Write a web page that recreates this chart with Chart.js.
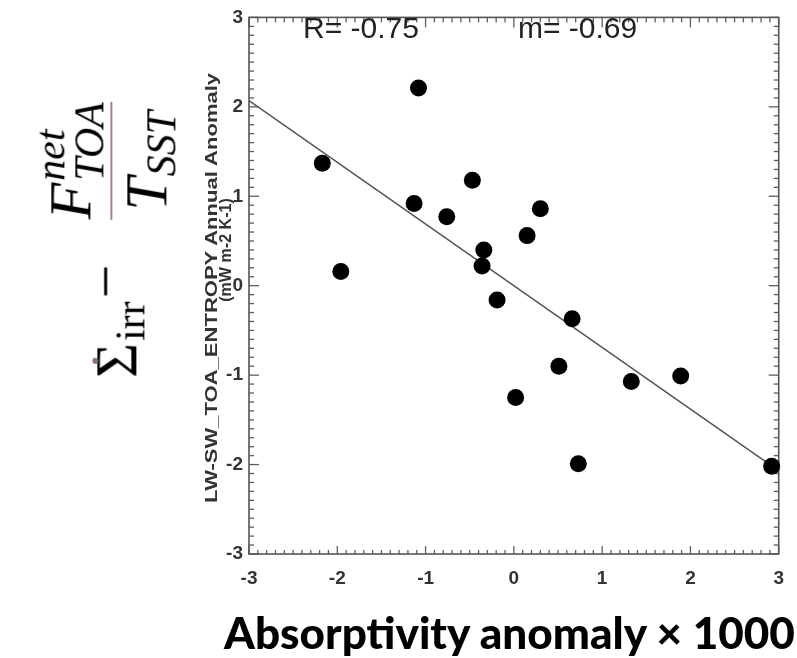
<!DOCTYPE html>
<html>
<head>
<meta charset="utf-8">
<script src="https://cdn.jsdelivr.net/npm/chart.js@4/dist/chart.umd.min.js"></script>
<style>
  html, body { margin: 0; padding: 0; background: #fff; }
  #wrap { position: relative; width: 797px; height: 658px; overflow: hidden; }
  #c { position: absolute; left: 0; top: 0; }
  .t { position: absolute; white-space: nowrap; line-height: 1; }
  .rot { transform-origin: center center; }
  #formula { position: absolute; white-space: nowrap; font-family: 'Liberation Serif', 'DejaVu Serif', serif; font-size: 60px; color: #000; line-height: 1; display: flex; align-items: center; }
  #formula .sig { position: relative; display: inline-block; top: 0.2em; }
  #formula .dot { position: absolute; width: 6px; height: 6px; border-radius: 50%; background: #8c6f6f; left: 50%; top: 6px; margin-left: -3px; }
  #formula .irr { font-size: 0.7em; position: relative; top: 0.62em; margin-left: 2px; }
  #formula .minus { margin: 0 0.75em 0 0.05em; position: relative; top: 0.02em; }
  #formula .frac { display: inline-flex; flex-direction: column; align-items: center; }
  #formula .num, #formula .den { display: inline-flex; align-items: center; }
  #formula .bar { width: 100%; height: 2px; background: #a08686; margin: 2px 0 4px 0; }
  #formula i { font-style: italic; }
  #formula .ss { display: inline-flex; flex-direction: column; font-size: 0.7em; font-style: italic; line-height: 0.92; margin-left: 2px; }
  #formula .sub1 { font-size: 0.7em; font-style: italic; position: relative; top: 0.35em; margin-left: 1px; }
</style>
</head>
<body>
<div id="wrap">
  <canvas id="c" width="797" height="658"></canvas>
  <div class="t" id="rlab" style="left:303px; top:13px; font-family:'Liberation Sans',Arial,sans-serif; font-size:30px; color:#222;">R= -0.75</div>
  <div class="t" id="mlab" style="left:518px; top:13px; font-family:'Liberation Sans',Arial,sans-serif; font-size:30px; color:#222;">m= -0.69</div>
  <div class="t rot" id="ytitle1" style="font-family:'Liberation Sans',Arial,sans-serif; font-weight:bold; font-size:17px; color:#333;">LW-SW_TOA_ENTROPY Annual Anomaly</div>
  <div class="t rot" id="ytitle2" style="font-family:'Liberation Sans',Arial,sans-serif; font-weight:bold; font-size:17px; color:#333;">(mW m-2 K-1)</div>
  <div class="t" id="xlabel" style="font-family:'Lato','Open Sans',sans-serif; font-weight:900; font-size:43px; color:#000;">Absorptivity anomaly × 1000</div>
  <div id="formula" class="rot">
    <span class="sig">Σ<span class="dot"></span></span><span class="irr">irr</span><span class="minus">−</span><span class="frac"><span class="num"><i>F</i><span class="ss"><span>net</span><span>TOA</span></span></span><span class="bar"></span><span class="den"><i>T</i><span class="sub1">SST</span></span></span>
  </div>
</div>
<script>
// ---- data ----
const absorptivityAnomaly = [-2.17, -1.96, -1.08, -1.13, -0.76, -0.47, -0.34, -0.36, -0.19, 0.15, 0.30, 0.02, 0.51, 0.66, 0.73, 1.33, 1.89, 2.92];
const entropyAnomaly      = [ 1.37,  0.16,  2.21,  0.92,  0.77,  1.18,  0.40,  0.22, -0.16, 0.56, 0.86, -1.25, -0.90, -0.37, -1.99, -1.07, -1.01, -2.02];
const fitLineX = [-3, 2.9];
const fitLineY = [2.07, -2.0];
const tickValues = [-3, -2, -1, 0, 1, 2, 3];
const axisMin = -3, axisMax = 3;

const points = absorptivityAnomaly.map((x, i) => ({ x: x, y: entropyAnomaly[i] }));
const fitLine = fitLineX.map((x, i) => ({ x: x, y: fitLineY[i] }));

const framePlugin = {
  id: 'frame',
  beforeDatasetsDraw(chart) {
    const { ctx, chartArea: a, scales: { x, y } } = chart;
    ctx.save();
    ctx.strokeStyle = '#5e5e5e';
    ctx.lineWidth = 1.3;
    const line = (x1, y1, x2, y2) => { ctx.beginPath(); ctx.moveTo(x1, y1); ctx.lineTo(x2, y2); ctx.stroke(); };
    const steps = Math.round((axisMax - axisMin) * 10);
    for (let i = 0; i <= steps; i++) {
      const v = axisMin + i / 10;
      const major = i % 10 === 0;
      const L = major ? 10 : 5;
      const px = x.getPixelForValue(v);
      const py = y.getPixelForValue(v);
      line(px, a.bottom, px, a.bottom - (major ? 8 : 4));
      line(px, a.top, px, a.top + L);
      line(a.left, py, a.left + L, py);
      line(a.right, py, a.right - L, py);
    }
    ctx.lineWidth = 1.6;
    ctx.strokeStyle = '#555';
    ctx.strokeRect(a.left, a.top, a.right - a.left, a.bottom - a.top);
    ctx.restore();
  }
};

Chart.defaults.font.family = "'Liberation Sans', Arial, sans-serif";
const tickFont = { family: "'Liberation Sans', Arial, sans-serif", size: 19, weight: 'bold' };

new Chart(document.getElementById('c'), {
  type: 'scatter',
  data: {
    datasets: [
      {
        type: 'line',
        data: fitLine,
        borderColor: '#555',
        borderWidth: 1.5,
        pointRadius: 0,
        fill: false,
        tension: 0,
        order: 2
      },
      {
        data: points,
        backgroundColor: '#000',
        borderColor: '#000',
        pointRadius: 8.5,
        pointHoverRadius: 8.5,
        borderWidth: 0,
        order: 1
      }
    ]
  },
  options: {
    responsive: false,
    devicePixelRatio: 1,
    animation: false,
    events: [],
    clip: false,
    layout: { padding: { left: 0, top: 13, right: 14, bottom: 74 } },
    plugins: { legend: { display: false }, tooltip: { enabled: false }, title: { display: false } },
    scales: {
      x: {
        type: 'linear', min: axisMin, max: axisMax,
        afterBuildTicks: (s) => { s.ticks = tickValues.map(v => ({ value: v })); },
        afterFit: (s) => { s.height = 30; },
        grid: { display: false, drawTicks: false },
        border: { display: false },
        ticks: { font: tickFont, color: '#333', padding: 13, maxRotation: 0, autoSkip: false }
      },
      y: {
        type: 'linear', min: axisMin, max: axisMax,
        afterBuildTicks: (s) => { s.ticks = tickValues.map(v => ({ value: v })); },
        afterFit: (s) => { s.width = 249; },
        grid: { display: false, drawTicks: false },
        border: { display: false },
        ticks: { font: tickFont, color: '#333', padding: 6, autoSkip: false }
      }
    }
  },
  plugins: [framePlugin]
});

// ---- place rotated / fitted texts ----
function placeRot(id, cx, cy, targetLen) {
  const el = document.getElementById(id);
  const w = el.offsetWidth;
  const s = targetLen ? targetLen / w : 1;
  el.style.left = cx + 'px';
  el.style.top = cy + 'px';
  el.style.transform = `translate(-50%,-50%) rotate(-90deg) scaleX(${s})`;
}
placeRot('ytitle1', 211, 288, 430);
placeRot('ytitle2', 225, 250, 104);
placeRot('formula', 104, 240, null);

const xl = document.getElementById('xlabel');
const xw = xl.offsetWidth;
const xs = 571 / xw;
xl.style.left = (509.5 - xw / 2) + 'px';
xl.style.top = '611px';
xl.style.transform = `scaleX(${xs})`;
xl.style.transformOrigin = 'center center';
</script>
</body>
</html>
